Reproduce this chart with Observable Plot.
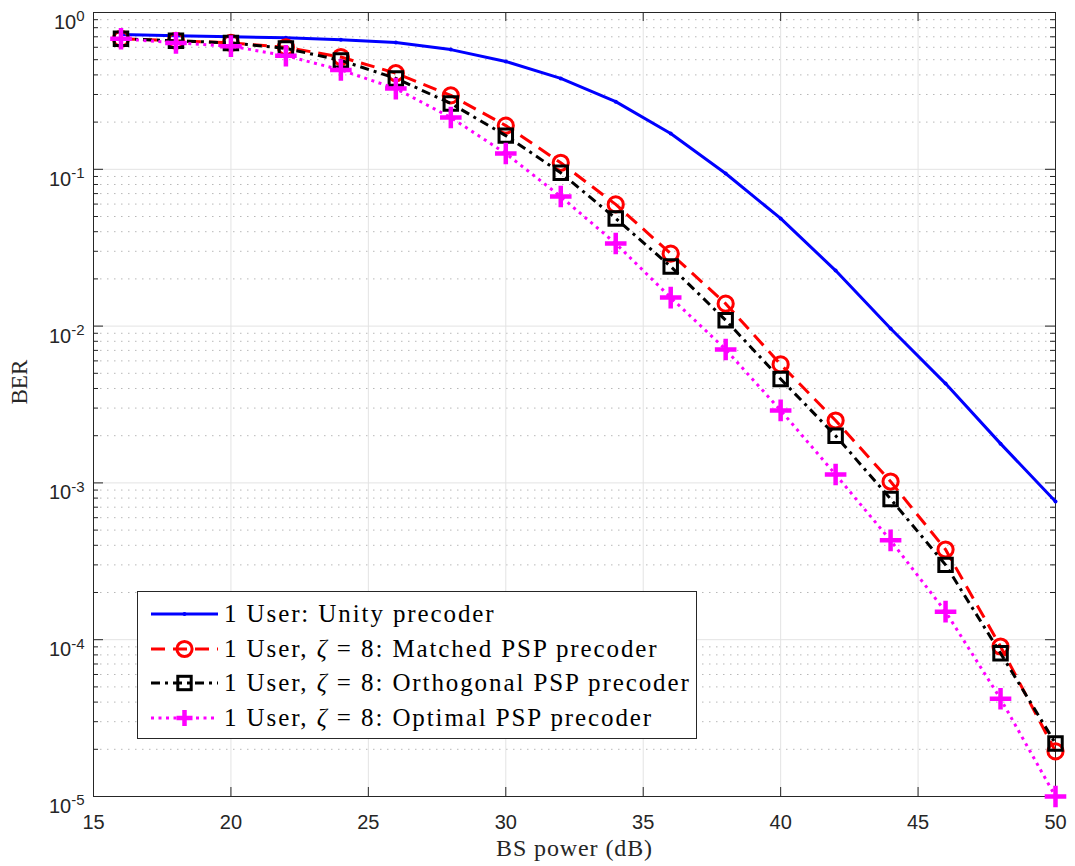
<!DOCTYPE html>
<html>
<head>
<meta charset="utf-8">
<script src="https://cdn.jsdelivr.net/npm/d3@7"></script>
<script src="https://cdn.jsdelivr.net/npm/@observablehq/plot@0.6"></script>
<style>
  html, body { margin: 0; padding: 0; background: #fff; }
  #wrap { position: relative; width: 1075px; height: 866px; }
  #legend {
    position: absolute; left: 137px; top: 591px; width: 558px; height: 146px;
    border: 1px solid #262626; background: #fff; box-sizing: content-box;
    font-family: "Liberation Serif", "Times New Roman", serif; font-size: 25px; color: #000;
  }
  #legend .row { position: absolute; left: 0; height: 34px; display: flex; align-items: center; white-space: nowrap; }
  #legend svg { display: block; }
  #legend span { margin-left: 6px; letter-spacing: 1.9px; }
</style>
</head>
<body>
<div id="wrap"></div>
<script>
// ---- data ----
const bsPower = [16, 18, 20, 22, 24, 26, 28, 30, 32, 34, 36, 38, 40, 42, 44, 46, 48, 50];
const unityBER = [0.724, 0.71, 0.70, 0.69, 0.67, 0.644, 0.58, 0.487, 0.38, 0.27, 0.169, 0.094, 0.0486, 0.0226, 0.00966, 0.0043, 0.00178, 0.00076];
const matchedBER = [0.68, 0.66, 0.64, 0.60, 0.52, 0.41, 0.296, 0.19, 0.11, 0.0597, 0.029, 0.0139, 0.0057, 0.0025, 0.00102, 0.000376, 9.05e-5, 1.94e-5];
const orthogonalBER = [0.68, 0.66, 0.64, 0.59, 0.495, 0.38, 0.263, 0.164, 0.095, 0.0486, 0.024, 0.0109, 0.0046, 0.002, 0.00079, 0.0003, 8.2e-5, 2.18e-5];
const optimalBER = [0.68, 0.64, 0.61, 0.53, 0.43, 0.327, 0.214, 0.126, 0.067, 0.0336, 0.0152, 0.0071, 0.0029, 0.00113, 0.00043, 0.000151, 4.2e-5, 1e-5];

const seriesNames = [
  "1 User: Unity precoder",
  "1 User, ζ = 8: Matched PSP precoder",
  "1 User, ζ = 8: Orthogonal PSP precoder",
  "1 User, ζ = 8: Optimal PSP precoder"
];
const seriesColors = ["#0000ff", "#ff0000", "#000000", "#ff00ff"];
const seriesDash = [null, "14,8", "9,5,3,5", "3,4.5"];
const seriesSymbol = ["circle", "circle", "square", "plus"];

const xTicks = [15, 20, 25, 30, 35, 40, 45, 50];
const yMajor = [1e-5, 1e-4, 1e-3, 1e-2, 1e-1, 1];
const yMinorMult = [2, 3, 4, 5, 6, 7, 8, 9];
const xLabel = "BS power (dB)";
const yLabel = "BER";

// ---- build tables ----
const allValues = [unityBER, matchedBER, orthogonalBER, optimalBER];
const tables = allValues.map((vals, i) => bsPower.map((x, j) => ({x, y: vals[j], s: i})));
const yMinor = [];
for (const d of yMajor.slice(0, -1)) for (const m of yMinorMult) yMinor.push(d * m);

const W = 1075, H = 866, mL = 93, mR = 20, mT = 12, mB = 70;
const fw = W - mL - mR, fh = H - mT - mB;
const axisColor = "#262626";

const seriesMarks = [];
tables.forEach((t, i) => {
  seriesMarks.push(Plot.line(t, {x: "x", y: "y", stroke: seriesColors[i], strokeWidth: 3, strokeDasharray: seriesDash[i], strokeLinecap: "butt"}));
  if (i === 0) {
    seriesMarks.push(Plot.dot(t, {x: "x", y: "y", r: 2, fill: seriesColors[i]}));
  } else if (i === 3) {
    seriesMarks.push(Plot.dot(t, {x: "x", y: "y", symbol: "plus", r: 7, stroke: seriesColors[i], strokeWidth: 4.5, fill: "none"}));
  } else {
    seriesMarks.push(Plot.dot(t, {x: "x", y: "y", symbol: seriesSymbol[i], r: 7.6, stroke: seriesColors[i], strokeWidth: 3, fill: "none"}));
  }
});

const chart = Plot.plot({
  width: W, height: H,
  marginLeft: mL, marginRight: mR, marginTop: mT, marginBottom: mB,
  style: {fontFamily: "'Liberation Sans', Arial, sans-serif", fontSize: "20px", color: axisColor, background: "#fff"},
  x: {domain: [15, 50], label: null},
  y: {type: "log", domain: [1e-5, 1], label: null},
  marks: [
    Plot.ruleY(yMinor, {stroke: "#b8b8b8", strokeDasharray: "1.5,5.5", strokeWidth: 1}),
    Plot.ruleX(xTicks, {stroke: "#e3e3e3", strokeWidth: 1}),
    Plot.ruleY(yMajor, {stroke: "#e3e3e3", strokeWidth: 1}),
    // inward ticks
    Plot.ruleX(xTicks, {stroke: axisColor, insetTop: fh - 9}),
    Plot.ruleX(xTicks, {stroke: axisColor, insetBottom: fh - 9}),
    Plot.ruleY(yMajor, {stroke: axisColor, insetRight: fw - 10}),
    Plot.ruleY(yMajor, {stroke: axisColor, insetLeft: fw - 10}),
    Plot.ruleY(yMinor, {stroke: axisColor, insetRight: fw - 5}),
    Plot.ruleY(yMinor, {stroke: axisColor, insetLeft: fw - 5}),
    Plot.frame({stroke: axisColor, strokeWidth: 1}),
    Plot.axisX(xTicks, {tickSize: 0, tickPadding: 18, fontSize: 20}),
    Plot.axisY(yMajor, {tickSize: 0, tickPadding: 9, fontSize: 20, tickFormat: d => "10^" + Math.round(Math.log10(d))}),
    ...seriesMarks,
    Plot.text([xLabel], {frameAnchor: "bottom", dy: 59, fontFamily: "'Liberation Serif', 'Times New Roman', serif", fontSize: 24, fill: axisColor}),
    Plot.text([yLabel], {frameAnchor: "left", dx: -74, rotate: -90, fontFamily: "'Liberation Serif', 'Times New Roman', serif", fontSize: 23, fill: axisColor})
  ]
});

// superscript exponents on y tick labels
d3.select(chart).selectAll('g[aria-label="y-axis tick label"] text').each(function() {
  const s = this.textContent;
  if (!s.startsWith("10^")) return;
  const e = s.slice(3);
  const t = d3.select(this);
  t.text("");
  t.attr("dy", "0.5em");
  t.append("tspan").text("10");
  t.append("tspan").attr("dy", "-0.5em").attr("font-size", "15px").text(e);
});
// slightly wider x label, like the reference's Computer Modern
d3.select(chart).selectAll('g[aria-label="text"] text').each(function() {
  if (this.textContent === xLabel) d3.select(this).style("letter-spacing", "0.9px");
});

const wrap = document.getElementById("wrap");
wrap.appendChild(chart);

// ---- legend (HTML overlay) ----
const legend = document.createElement("div");
legend.id = "legend";
wrap.appendChild(legend);
seriesNames.forEach((name, i) => {
  const row = document.createElement("div");
  row.className = "row";
  row.style.top = (5 + i * 34.7) + "px";
  const sw = d3.create("svg").attr("width", 80).attr("height", 34);
  sw.append("line").attr("x1", 13).attr("x2", 80).attr("y1", 17).attr("y2", 17)
    .attr("stroke", seriesColors[i]).attr("stroke-width", 3)
    .attr("stroke-dasharray", seriesDash[i] || null);
  const cx = 46.5, cy = 17;
  if (i === 0) sw.append("circle").attr("cx", cx).attr("cy", cy).attr("r", 2).attr("fill", seriesColors[i]);
  if (i === 1) sw.append("circle").attr("cx", cx).attr("cy", cy).attr("r", 7.6).attr("fill", "none").attr("stroke", seriesColors[i]).attr("stroke-width", 3);
  if (i === 2) sw.append("rect").attr("x", cx - 6.7).attr("y", cy - 6.7).attr("width", 13.4).attr("height", 13.4).attr("fill", "none").attr("stroke", seriesColors[i]).attr("stroke-width", 3);
  if (i === 3) sw.append("path").attr("d", `M${cx-8},${cy}H${cx+8}M${cx},${cy-8}V${cy+8}`).attr("stroke", seriesColors[i]).attr("stroke-width", 4.5);
  row.appendChild(sw.node());
  const span = document.createElement("span");
  span.innerHTML = name.replace(" ζ = ", " <i>ζ</i>\u2005=\u2005");
  row.appendChild(span);
  legend.appendChild(row);
});
</script>
</body>
</html>
